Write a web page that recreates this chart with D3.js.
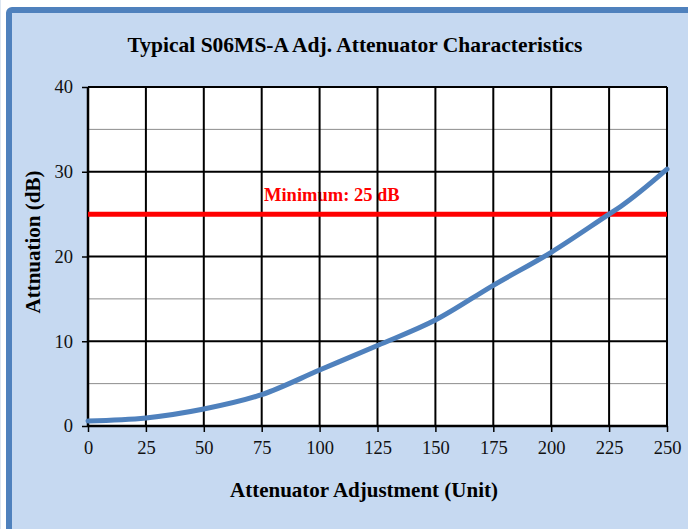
<!DOCTYPE html>
<html>
<head>
<meta charset="utf-8">
<script src="https://cdn.jsdelivr.net/npm/d3@7"></script>
<style>
  body { margin: 0; background: #fff; }
  text { font-family: "Liberation Serif", "Times New Roman", serif; }
</style>
</head>
<body>
<script>
"use strict";

// chart values
const units = [0, 25, 50, 75, 100, 125, 150, 175, 200, 225, 230, 250];
const attenuation = [0.6, 0.95, 2.0, 3.7, 6.6, 9.5, 12.5, 16.6, 20.5, 25.0, 25.9, 30.3];
const xTicks = [0, 25, 50, 75, 100, 125, 150, 175, 200, 225, 250];
const yTicks = [0, 10, 20, 30, 40];
const yMinorTicks = [5, 15, 25, 35];
const minimumLevel = 25;

const w = 688;
const h = 529;
const plotLeft = 88, plotRight = 667, plotTop = 87, plotBottom = 426;

const svg = d3.select("body").append("svg").attr("width", w).attr("height", h);

// outer frame
svg.append("rect").attr("x", 0).attr("y", 0).attr("width", 1).attr("height", h).attr("fill", "#dce6f2");
svg.append("rect")
  .attr("x", 9).attr("y", 10)
  .attr("width", 720).attr("height", 560)
  .attr("rx", 3)
  .attr("fill", "#c6d9f1")
  .attr("stroke", "#4f81bd")
  .attr("stroke-width", 6);

const xScale = d3.scaleLinear().domain([0, 250]).range([plotLeft, plotRight]);
const yScale = d3.scaleLinear().domain([0, 40]).range([plotBottom, plotTop]);

// plot background
svg.append("rect")
  .attr("x", plotLeft).attr("y", plotTop)
  .attr("width", plotRight - plotLeft).attr("height", plotBottom - plotTop)
  .attr("fill", "#fff");

// threshold label (sits under the grid)
svg.append("text")
  .attr("x", 264)
  .attr("y", yScale(minimumLevel) - 13)
  .attr("fill", "#ff0000")
  .attr("font-weight", "bold")
  .attr("font-size", "18.5px")
  .text("Minimum: 25 dB");

// minor horizontal grid
svg.append("g")
  .selectAll("line")
  .data(yMinorTicks)
  .enter()
  .append("line")
  .attr("x1", plotLeft).attr("x2", plotRight)
  .attr("y1", (d) => yScale(d)).attr("y2", (d) => yScale(d))
  .attr("stroke", "#8c8c8c")
  .attr("stroke-width", 1);

// major horizontal grid
svg.append("g")
  .selectAll("line")
  .data(yTicks.slice(1))
  .enter()
  .append("line")
  .attr("x1", plotLeft).attr("x2", plotRight)
  .attr("y1", (d) => yScale(d)).attr("y2", (d) => yScale(d))
  .attr("stroke", "#000")
  .attr("stroke-width", 2);

// vertical grid
svg.append("g")
  .selectAll("line")
  .data(xTicks.slice(1))
  .enter()
  .append("line")
  .attr("x1", (d) => xScale(d)).attr("x2", (d) => xScale(d))
  .attr("y1", plotTop).attr("y2", plotBottom)
  .attr("stroke", "#000")
  .attr("stroke-width", 2);

// axes
const xAxis = d3.axisBottom(xScale).tickValues(xTicks).tickSize(6).tickPadding(9);
const yAxis = d3.axisLeft(yScale).tickValues(yTicks).tickSize(6).tickPadding(9);

svg.append("g")
  .attr("transform", `translate(0, ${plotBottom})`)
  .call(xAxis)
  .call((g) => g.select(".domain").attr("stroke-width", 2.5).attr("d", `M${plotLeft},0H${plotRight}`))
  .call((g) => g.selectAll(".tick line").attr("stroke-width", 1.5))
  .call((g) => g.selectAll(".tick text").attr("font-size", "18.5px").attr("font-family", "Liberation Serif").attr("fill", "#111"));

svg.append("g")
  .attr("transform", `translate(${plotLeft}, 0)`)
  .call(yAxis)
  .call((g) => g.select(".domain").attr("stroke-width", 2.5).attr("d", `M0,${plotBottom}V${plotTop}`))
  .call((g) => g.selectAll(".tick line").attr("stroke-width", 1.5))
  .call((g) => g.selectAll(".tick text").attr("font-size", "18.5px").attr("font-family", "Liberation Serif").attr("fill", "#111"));

// minimum line
svg.append("line")
  .attr("x1", plotLeft).attr("x2", plotRight)
  .attr("y1", yScale(minimumLevel)).attr("y2", yScale(minimumLevel))
  .attr("stroke", "#ff0000")
  .attr("stroke-width", 5);

// attenuation curve
const line = d3.line()
  .x((d) => xScale(d[0]))
  .y((d) => yScale(d[1]))
  .curve(d3.curveMonotoneX);

svg.append("path")
  .datum(units.map((u, i) => [u, attenuation[i]]))
  .attr("d", line)
  .attr("fill", "none")
  .attr("stroke", "#4f81bd")
  .attr("stroke-width", 5)
  .attr("stroke-linecap", "round");

// titles
svg.append("text")
  .attr("x", 355).attr("y", 52)
  .attr("text-anchor", "middle")
  .attr("font-weight", "bold")
  .attr("font-size", "21.5px")
  .text("Typical S06MS-A Adj. Attenuator Characteristics");

svg.append("text")
  .attr("x", 364).attr("y", 497)
  .attr("text-anchor", "middle")
  .attr("font-weight", "bold")
  .attr("font-size", "21px")
  .text("Attenuator Adjustment (Unit)");

svg.append("text")
  .attr("transform", "translate(40, 242) rotate(-90)")
  .attr("text-anchor", "middle")
  .attr("font-weight", "bold")
  .attr("font-size", "21px")
  .text("Attnuation (dB)");
</script>
</body>
</html>
